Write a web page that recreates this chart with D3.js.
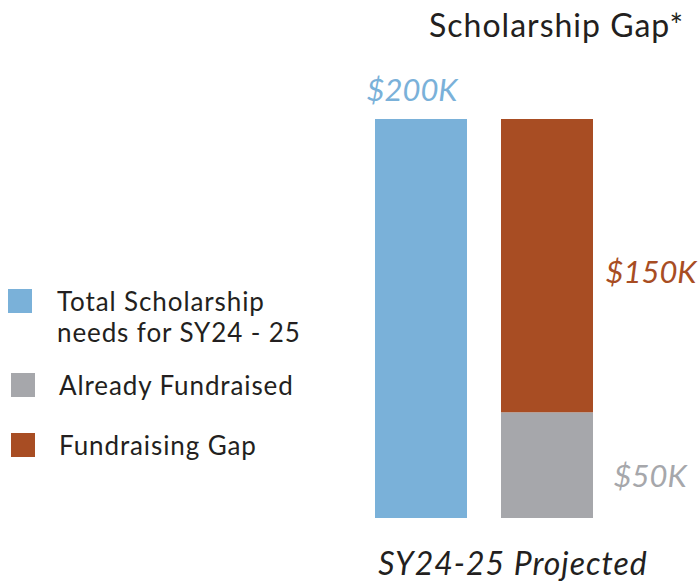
<!DOCTYPE html>
<html>
<head>
<meta charset="utf-8">
<script src="https://cdn.jsdelivr.net/npm/d3@7"></script>
<style>
  body { margin: 0; background: #fff; }
  svg text { font-family: Lato, "Open Sans", sans-serif; }
</style>
</head>
<body>
<div id="chart"></div>
<script>
// data
const bars = ['total', 'split']
const totalNeed = [200]
const fundraised = [53]      // bar height as drawn
const gap = [147]
const valueLabels = ['$200K', '$50K', '$150K']
const legendLabels = [['Total Scholarship', 'needs for SY24 - 25'], ['Already Fundraised'], ['Fundraising Gap']]
const colors = ['#7ab1d9', '#a6a7ab', '#a84d23']

const width = 699
const height = 583

const svg = d3.select('#chart').append('svg')
  .attr('width', width)
  .attr('height', height)

const x = d3.scaleBand()
  .domain(bars)
  .range([375, 593])
  .paddingInner(34 / 126)

const y = d3.scaleLinear()
  .domain([0, 200])
  .range([518, 119])

// total bar
svg.append('rect')
  .attr('x', x('total'))
  .attr('y', y(totalNeed[0]))
  .attr('width', x.bandwidth())
  .attr('height', y(0) - y(totalNeed[0]))
  .attr('fill', colors[0])

// stacked bar
const stack = [
  {v0: 0, v1: fundraised[0], color: colors[1]},
  {v0: fundraised[0], v1: fundraised[0] + gap[0], color: colors[2]}
]
svg.selectAll('.seg')
  .data(stack)
  .join('rect')
    .attr('class', 'seg')
    .attr('x', x('split'))
    .attr('y', d => y(d.v1))
    .attr('width', x.bandwidth())
    .attr('height', d => y(d.v0) - y(d.v1))
    .attr('fill', d => d.color)

// value labels
const valueText = (txt, cx, cy, color) => svg.append('text')
  .attr('x', cx)
  .attr('y', cy)
  .attr('text-anchor', 'middle')
  .attr('font-size', 31)
  .attr('font-style', 'italic')
  .attr('fill', color)
  .text(txt)

valueText(valueLabels[0], 412, 101, colors[0])
valueText(valueLabels[1], 650, 487, colors[1])
valueText(valueLabels[2], 651, 283, colors[2])

// title
svg.append('text')
  .attr('x', 684)
  .attr('y', 37)
  .attr('text-anchor', 'end')
  .attr('font-size', 32)
  .attr('letter-spacing', 1)
  .attr('fill', '#231f20')
  .text('Scholarship Gap*')

// x label
svg.append('text')
  .attr('x', 513)
  .attr('y', 575)
  .attr('text-anchor', 'middle')
  .attr('font-size', 32)
  .attr('font-style', 'italic')
  .attr('letter-spacing', 1)
  .attr('fill', '#231f20')
  .text('SY24-25 Projected')

// legend
const legendY = [289, 373, 433]
const legendX = [8, 11, 11]
const leg = svg.selectAll('.leg')
  .data(legendLabels)
  .join('g')
    .attr('class', 'leg')

leg.append('rect')
  .attr('x', (d, i) => legendX[i])
  .attr('y', (d, i) => legendY[i])
  .attr('width', 24)
  .attr('height', 24)
  .attr('fill', (d, i) => colors[i])

leg.append('text')
  .attr('font-size', 26)
  .attr('letter-spacing', 0.9)
  .attr('fill', '#231f20')
  .selectAll('tspan')
  .data((d, i) => d.map(t => ({t, i})))
  .join('tspan')
    .attr('x', d => d.i === 0 ? 57 : 59)
    .attr('y', (d, j) => legendY[d.i] + 22 + j * 31)
    .text(d => d.t)
</script>
</body>
</html>
